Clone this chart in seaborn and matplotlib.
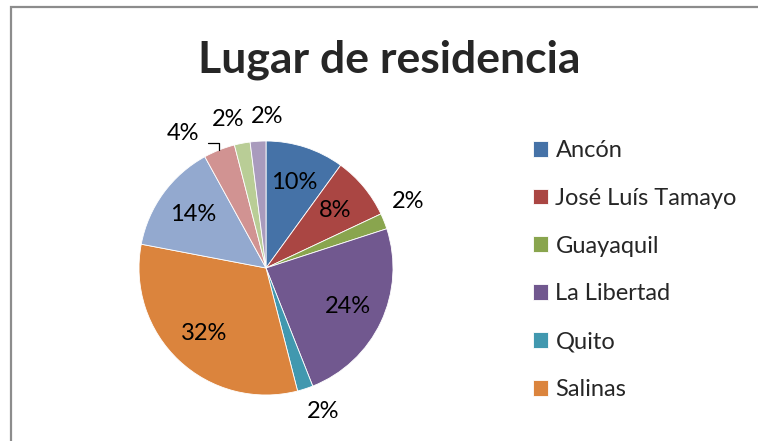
import matplotlib
matplotlib.use("Agg")
import matplotlib.pyplot as plt
import seaborn as sns
from matplotlib.patches import Rectangle
import numpy as np

# -------------------------------------------------------------------
# Datos
# -------------------------------------------------------------------

# Sólo las 6 primeras categorías aparecen en la leyenda original
categories = ["Ancón", "José Luís Tamayo", "Guayaquil", "La Libertad", "Quito", "Salinas"]
percentages = [10, 8, 2, 24, 2, 32, 14, 4, 2, 2]
colors = ["#4572A7", "#AA4643", "#89A54E", "#71588F", "#4198AF",
          "#DB843D", "#93A9CF", "#D19392", "#B9CD96", "#A99BBD"]
title = "Lugar de residencia"

# posiciones de las etiquetas exteriores (en radios del pastel)
outside_pos = {2: (1.12, 0.52), 4: (0.45, -1.13), 7: (-0.65, 1.06),
               8: (-0.30, 1.17), 9: (0.01, 1.19)}

# -------------------------------------------------------------------
# Figura
# -------------------------------------------------------------------

sns.set_theme(style="white")
plt.rcParams["font.family"] = ["Lato", "DejaVu Sans"]

W, H = 758, 441
fig = plt.figure(figsize=(W / 100, H / 100), dpi=100)

# Borde gris del gráfico
fig.patches.append(Rectangle((10.5 / W, -0.1), 1.2, 1.1 - 7.5 / H,
                             transform=fig.transFigure, fill=False,
                             edgecolor="#8c8c8c", linewidth=1.6))

cx, cy, r = 266, 268, 127
ax = fig.add_axes([(cx - r) / W, (H - cy - r) / H, 2 * r / W, 2 * r / H])

wedges, _ = ax.pie(percentages, colors=sns.color_palette(colors),
                   startangle=90, counterclock=False, radius=1,
                   wedgeprops=dict(edgecolor="white", linewidth=0.6))
ax.set_xlim(-1, 1)
ax.set_ylim(-1, 1)
ax.axis("off")

# etiquetas: dentro para los sectores grandes, fuera para los pequeños
for i, (w, p) in enumerate(zip(wedges, percentages)):
    ang = np.deg2rad((w.theta1 + w.theta2) / 2)
    if i in outside_pos:
        x, y = outside_pos[i]
    else:
        x, y = 0.71 * np.cos(ang), 0.71 * np.sin(ang)
    if p == 4:
        # línea guía del 4%
        ex, ey = np.cos(ang), np.sin(ang)
        ax.plot([ex, ex, -0.46], [ey, 0.985, 0.985], color="black", lw=0.9,
                clip_on=False)
    ax.text(x, y, f"{p}%", ha="center", va="center", fontsize=17,
            color="black")

fig.legend(handles=wedges[:6], labels=categories, loc="upper left",
           bbox_to_anchor=(533 / W, 1 - 140 / H), frameon=False,
           fontsize=17, labelspacing=1.135, handlelength=0.65,
           handleheight=0.65, handletextpad=0.3, borderpad=0,
           borderaxespad=0)

fig.text(389 / W, 1 - 60 / H, title, ha="center", va="center",
         fontsize=32, fontweight="bold")

fig.savefig("out.png", dpi=100)
